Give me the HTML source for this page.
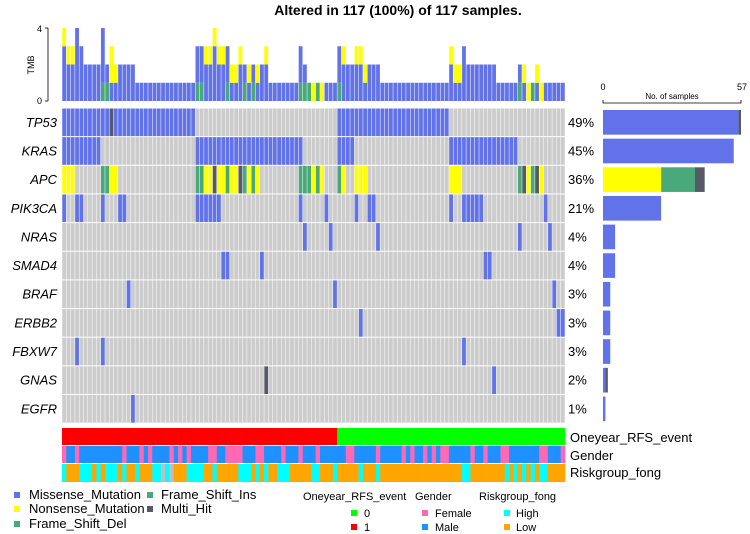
<!DOCTYPE html>
<html><head><meta charset="utf-8"><style>
body{margin:0;background:#fff;}
svg{display:block;font-family:"Liberation Sans",Arial,sans-serif;}
</style></head><body>
<svg id="chart" width="750" height="534" viewBox="0 0 750 534" xmlns="http://www.w3.org/2000/svg">
<text x="398" y="15" text-anchor="middle" font-size="14" font-weight="bold">Altered in 117 (100%) of 117 samples.</text>
<g>
<text x="34" y="65" font-size="9" text-anchor="middle" transform="rotate(-90 34 65)">TMB</text>
<line x1="48" y1="28" x2="48" y2="101" stroke="#000" stroke-width="0.8"/>
<line x1="45" y1="28" x2="48" y2="28" stroke="#000" stroke-width="0.8"/>
<line x1="45" y1="101" x2="48" y2="101" stroke="#000" stroke-width="0.8"/>
<text x="42" y="32" font-size="9" text-anchor="end">4</text>
<text x="42" y="104" font-size="9" text-anchor="end">0</text>
</g>
<g>
<text x="603" y="90" font-size="9" text-anchor="middle">0</text>
<text x="742" y="90" font-size="9" text-anchor="middle">57</text>
<text x="672" y="99" font-size="8" text-anchor="middle">No. of samples</text>
<path d="M603 100 V103 H741 V100" fill="none" stroke="#000" stroke-width="0.8"/>
</g>
<g id="tmb"></g>
<g id="grid"></g>
<g id="bars"></g>
<g id="anno"></g>
<g font-size="13">
<text x="570" y="442">Oneyear_RFS_event</text>
<text x="570" y="460">Gender</text>
<text x="570" y="477">Riskgroup_fong</text>
</g>
<g font-size="13">
<rect x="14" y="492" width="6" height="6" fill="#6272e8"/><text x="29" y="499">Missense_Mutation</text>
<rect x="14" y="506" width="6" height="6" fill="#ffff00"/><text x="29" y="513">Nonsense_Mutation</text>
<rect x="14" y="521" width="6" height="6" fill="#4aa97b"/><text x="29" y="528">Frame_Shift_Del</text>
<rect x="147" y="492" width="6" height="6" fill="#4aa97b"/><text x="161" y="499">Frame_Shift_Ins</text>
<rect x="147" y="506" width="6" height="6" fill="#555a66"/><text x="161" y="513">Multi_Hit</text>
</g>
<g font-size="11">
<text x="303" y="500">Oneyear_RFS_event</text>
<text x="415" y="500">Gender</text>
<text x="479" y="500">Riskgroup_fong</text>
<rect x="351" y="510" width="6" height="6" fill="#00ff00"/><text x="364" y="517">0</text>
<rect x="351" y="524" width="6" height="6" fill="#ff0000"/><text x="364" y="531">1</text>
<rect x="422" y="510" width="6" height="6" fill="#ff69b4"/><text x="435" y="517">Female</text>
<rect x="422" y="524" width="6" height="6" fill="#1e90ff"/><text x="435" y="531">Male</text>
<rect x="504" y="510" width="6" height="6" fill="#00ffff"/><text x="516" y="517">High</text>
<rect x="504" y="524" width="6" height="6" fill="#ffa500"/><text x="516" y="531">Low</text>
</g>
</svg>
<script>
function range(a,b){const r=[];for(let i=a;i<=b;i++)r.push(i);return r;}
const nSamples=117;
const genes=["TP53","KRAS","APC","PIK3CA","NRAS","SMAD4","BRAF","ERBB2","FBXW7","GNAS","EGFR"];
const pctLabels=["49%","45%","36%","21%","4%","4%","3%","3%","3%","2%","1%"];
// mutation type per gene: M=missense N=nonsense I=frame shift H=multi hit
const tp53M=[...range(0,10),...range(12,30),...range(64,89)];
const tp53H=[11];
const krasM=[...range(0,8),...range(31,55),...range(64,67),...range(90,105)];
const apcN=[0,1,2,11,12,33,34,36,37,39,40,43,45,58,60,65,68,69,70,90,91,92,108,111];
const apcI=[9,10,31,32,38,42,44,55,56,57,59,64,106,109];
const apcH=[35,41,107,110];
const pik3caM=[0,3,4,9,13,14,...range(31,36),55,61,68,71,72,90,...range(93,97),112];
const nrasM=[56,62,73,106,113];
const smad4M=[37,38,46,98,99];
const brafM=[15,63,114];
const erbb2M=[69,115,116];
const fbxw7M=[3,9,93];
const gnasM=[100];
const gnasH=[47];
const egfrM=[16];
const geneMuts=[
 [[tp53M,"M"],[tp53H,"H"]],[[krasM,"M"]],[[apcN,"N"],[apcI,"I"],[apcH,"H"]],[[pik3caM,"M"]],
 [[nrasM,"M"]],[[smad4M,"M"]],[[brafM,"M"]],[[erbb2M,"M"]],[[fbxw7M,"M"]],[[gnasM,"M"],[gnasH,"H"]],[[egfrM,"M"]]];
const rfsEvent1=range(0,63);
const femaleCols=[0,3,14,18,20,25,27,29,34,35,38,39,40,41,45,46,51,55,59,66,67,73,79,81,84,86,88,89,95,98,102,103,111,112,116];
const highRiskCols=[0,4,5,6,8,10,11,12,14,17,21,22,24,29,30,31,32,35,41,42,43,45,47,50,51,52,58,59,63,69,73,93,94,103,105,107,109,111,112];
const naRiskCols=[23,25];
const barMax=57;
const tmbMax=4;

const col={M:"#6272e8",N:"#ffff00",I:"#4aa97b",H:"#555a66"};
const NS="http://www.w3.org/2000/svg";
function mk(tag,attrs,parent){const e=document.createElementNS(NS,tag);for(const k in attrs)e.setAttribute(k,attrs[k]);parent.appendChild(e);return e;}
const gx0=62,gx1=565,cw=(gx1-gx0)/nSamples;
const gy0=108,rh=28.65;
const xS=i=>gx0+i*cw;
const tmbY=v=>101-v*(73/tmbMax);
const barX=v=>603+v*(138/barMax);

const grid=document.getElementById("grid"),bars=document.getElementById("bars"),tmbG=document.getElementById("tmb"),anno=document.getElementById("anno");
const tmbCounts=[];for(let i=0;i<nSamples;i++)tmbCounts.push({I:0,M:0,N:0});
genes.forEach((g,r)=>{
  const y=gy0+r*rh;
  const lab=mk("text",{x:57,y:y+rh/2+4.5,"font-size":13,"font-style":"italic","text-anchor":"end"},grid);
  lab.textContent=g;
  
  
  const pl=mk("text",{x:568,y:y+rh/2+4.5,"font-size":13},grid);
  pl.textContent=pctLabels[r];
  
  
  const types=new Array(nSamples).fill(null);
  geneMuts[r].forEach(([arr,t])=>arr.forEach(c=>types[c]=t));
  for(let i=0;i<nSamples;i++){
    const t=types[i];
    const c=mk("rect",{x:xS(i)+0.25,y:y+0.5,width:cw-0.5,height:rh-1,fill:t?col[t]:"#cccccc"},grid);
    
    
    if(t==="H"){tmbCounts[i].M++;tmbCounts[i].N++;}else if(t){tmbCounts[i][t]++;}
  }
  const cnt={M:0,N:0,I:0,H:0};types.forEach(t=>{if(t)cnt[t]++;});
  let acc=0;
  ["M","N","I","H"].forEach(t=>{if(!cnt[t])return;
    const b=mk("rect",{x:barX(acc),y:y+2,width:barX(acc+cnt[t])-barX(acc),height:rh-4,fill:col[t]},bars);
    
    
    acc+=cnt[t];});
});
for(let i=0;i<nSamples;i++){
  let acc=0;
  ["I","M","N"].forEach(t=>{const v=tmbCounts[i][t];if(!v)return;
    const b=mk("rect",{x:xS(i)+0.25,y:tmbY(acc+v),width:cw-0.5,height:tmbY(acc)-tmbY(acc+v),fill:col[t]},tmbG);
    
    
    acc+=v;});
}
for(let i=0;i<nSamples;i++){
  const r1=mk("rect",{x:xS(i),y:428,width:cw+0.3,height:17,fill:rfsEvent1.includes(i)?"#ff0000":"#00ff00"},anno);
  
  
  const r2=mk("rect",{x:xS(i),y:446,width:cw+0.3,height:17,fill:femaleCols.includes(i)?"#ff69b4":"#1e90ff"},anno);
  
  
  const rc=naRiskCols.includes(i)?"#bebebe":highRiskCols.includes(i)?"#00ffff":"#ffa500";
  const r3=mk("rect",{x:xS(i),y:464,width:cw+0.3,height:18,fill:rc},anno);
  
  
}
</script>
</body></html>
